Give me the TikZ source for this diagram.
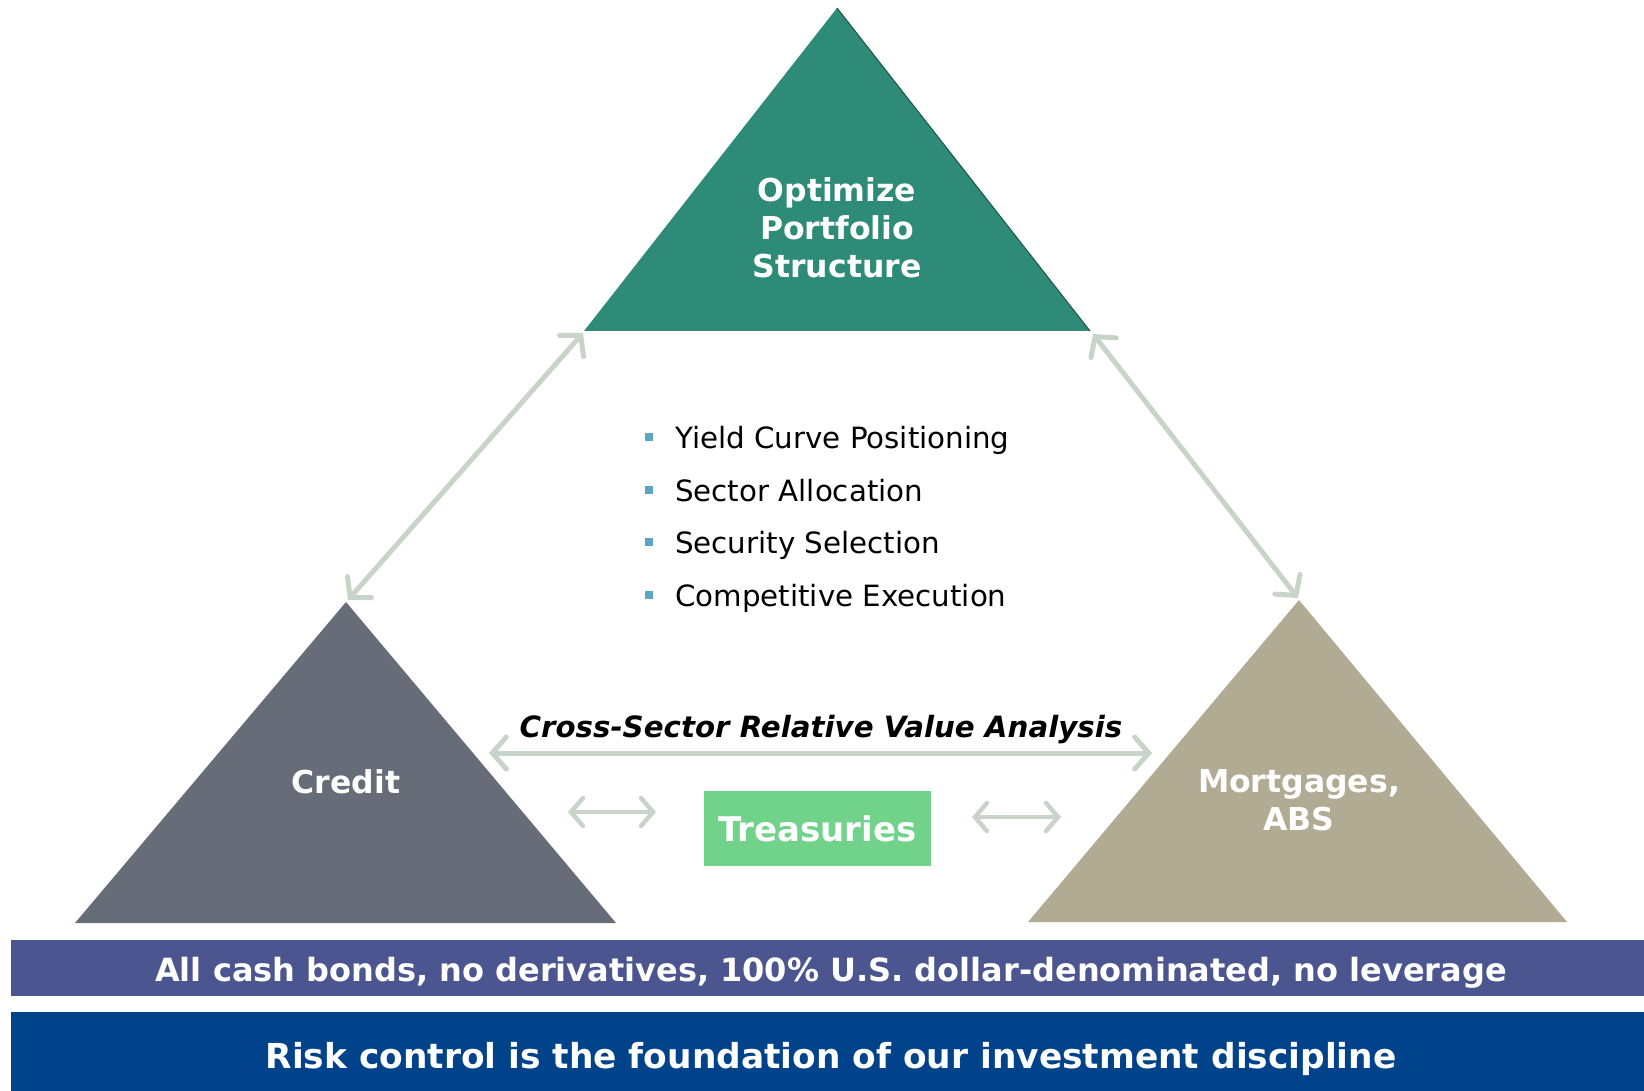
\documentclass[tikz,border=0pt]{standalone}
\usepackage{fontspec}
\setmainfont{DejaVu Sans}
\usetikzlibrary{arrows.meta}
\definecolor{topteal}{HTML}{2E8B77}
\definecolor{creditgray}{HTML}{666D78}
\definecolor{mortgtan}{HTML}{B1AB94}
\definecolor{arrowgreen}{HTML}{C9D4C8}
\definecolor{treasgreen}{HTML}{71D38A}
\definecolor{barpurple}{HTML}{4B5590}
\definecolor{barblue}{HTML}{00438A}
\definecolor{bulletblue}{HTML}{5BA6C2}
\tikzset{
  bigarrow/.style={draw=arrowgreen, line width=5pt, line cap=round,
    {Straight Barb[length=14pt,width=32pt,line cap=round]}-{Straight Barb[length=14pt,width=32pt,line cap=round]}},
  smallarrow/.style={draw=arrowgreen, line width=4.5pt, line cap=round,
    {Straight Barb[length=12pt,width=28pt,line cap=round]}-{Straight Barb[length=12pt,width=28pt,line cap=round]}},
  whitelabel/.style={text=white, font=\fontsize{31.5}{38}\selectfont\bfseries, align=center, inner sep=0pt},
  bullettext/.style={text=black, font=\fontsize{29.3}{35}\selectfont, anchor=base west, inner sep=0pt},
  bulletsq/.style={fill=bulletblue, minimum size=8pt, inner sep=0pt},
  bartext/.style={text=white, inner sep=0pt}
}
\begin{document}
\begin{tikzpicture}[x=1pt,y=-1pt]
\useasboundingbox (0,0) rectangle (1644,1091);
% corners
\coordinate (topA) at (837,8);
\coordinate (topL) at (584,331);
\coordinate (topR) at (1090,331);
\coordinate (crA) at (346,602);
\coordinate (crL) at (75,923);
\coordinate (crR) at (616,923);
\coordinate (moA) at (1299,600);
\coordinate (moL) at (1028,922);
\coordinate (moR) at (1567,922);
% triangles
\fill[topteal] (topA) -- (topR) -- (topL) -- cycle;
\draw[draw=topteal!60!black, line width=1pt] (topA) -- (topR);
\fill[creditgray] (crA) -- (crR) -- (crL) -- cycle;
\fill[mortgtan] (moA) -- (moR) -- (moL) -- cycle;
% labels in triangles
\node[whitelabel] (opt) at (837,228) {Optimize\\Portfolio\\Structure};
\node[whitelabel] (credit) at (346,782) {Credit};
\node[whitelabel] (mort) at (1299,800) {Mortgages,\\ABS};
% connectors between triangles
\coordinate (la1) at (348,600);
\coordinate (la2) at (583,333);
\coordinate (ra1) at (1093,334);
\coordinate (ra2) at (1298,598);
\draw[bigarrow] (la1) -- (la2);
\draw[bigarrow] (ra1) -- (ra2);
\coordinate (ha1) at (489,753);
\coordinate (ha2) at (1152,753);
\draw[bigarrow] (ha1) -- (ha2);
% cross-sector label
\node[font=\fontsize{29.3}{35}\selectfont\bfseries\itshape, inner sep=0pt] (cross) at (821,730) {Cross-Sector Relative Value Analysis};
% treasuries
\node[fill=treasgreen, minimum width=227pt, minimum height=75pt, inner sep=0pt,
      text=white, font=\fontsize{34}{40}\selectfont\bfseries] (treas) at (817.5,828.5) {Treasuries};
\coordinate (sl1) at (568,812);
\coordinate (sl2) at (656,812);
\coordinate (sr1) at (972,817);
\coordinate (sr2) at (1061,817);
\draw[smallarrow] (sl1) -- (sl2);
\draw[smallarrow] (sr1) -- (sr2);
% bullets
\node[bulletsq] (b1) at (649,437) {};
\node[bulletsq] (b2) at (649,490) {};
\node[bulletsq] (b3) at (649,542) {};
\node[bulletsq] (b4) at (649,595) {};
\node[bullettext] (t1) at (675,448) {Yield Curve Positioning};
\node[bullettext] (t2) at (675,501) {Sector Allocation};
\node[bullettext] (t3) at (675,553) {Security Selection};
\node[bullettext] (t4) at (675,606) {Competitive Execution};
% bars
\fill[barpurple] (10.5,940) rectangle (1644,996);
\node[bartext, font=\fontsize{32}{38}\selectfont\bfseries] (bar1) at (831,973) {All cash bonds, no derivatives, 100\% U.S. dollar-denominated, no leverage};
\fill[barblue] (10.5,1012) rectangle (1644,1091);
\node[bartext, font=\fontsize{34.4}{40}\selectfont\bfseries] (bar2) at (831,1059) {Risk control is the foundation of our investment discipline};
\end{tikzpicture}
\end{document}
